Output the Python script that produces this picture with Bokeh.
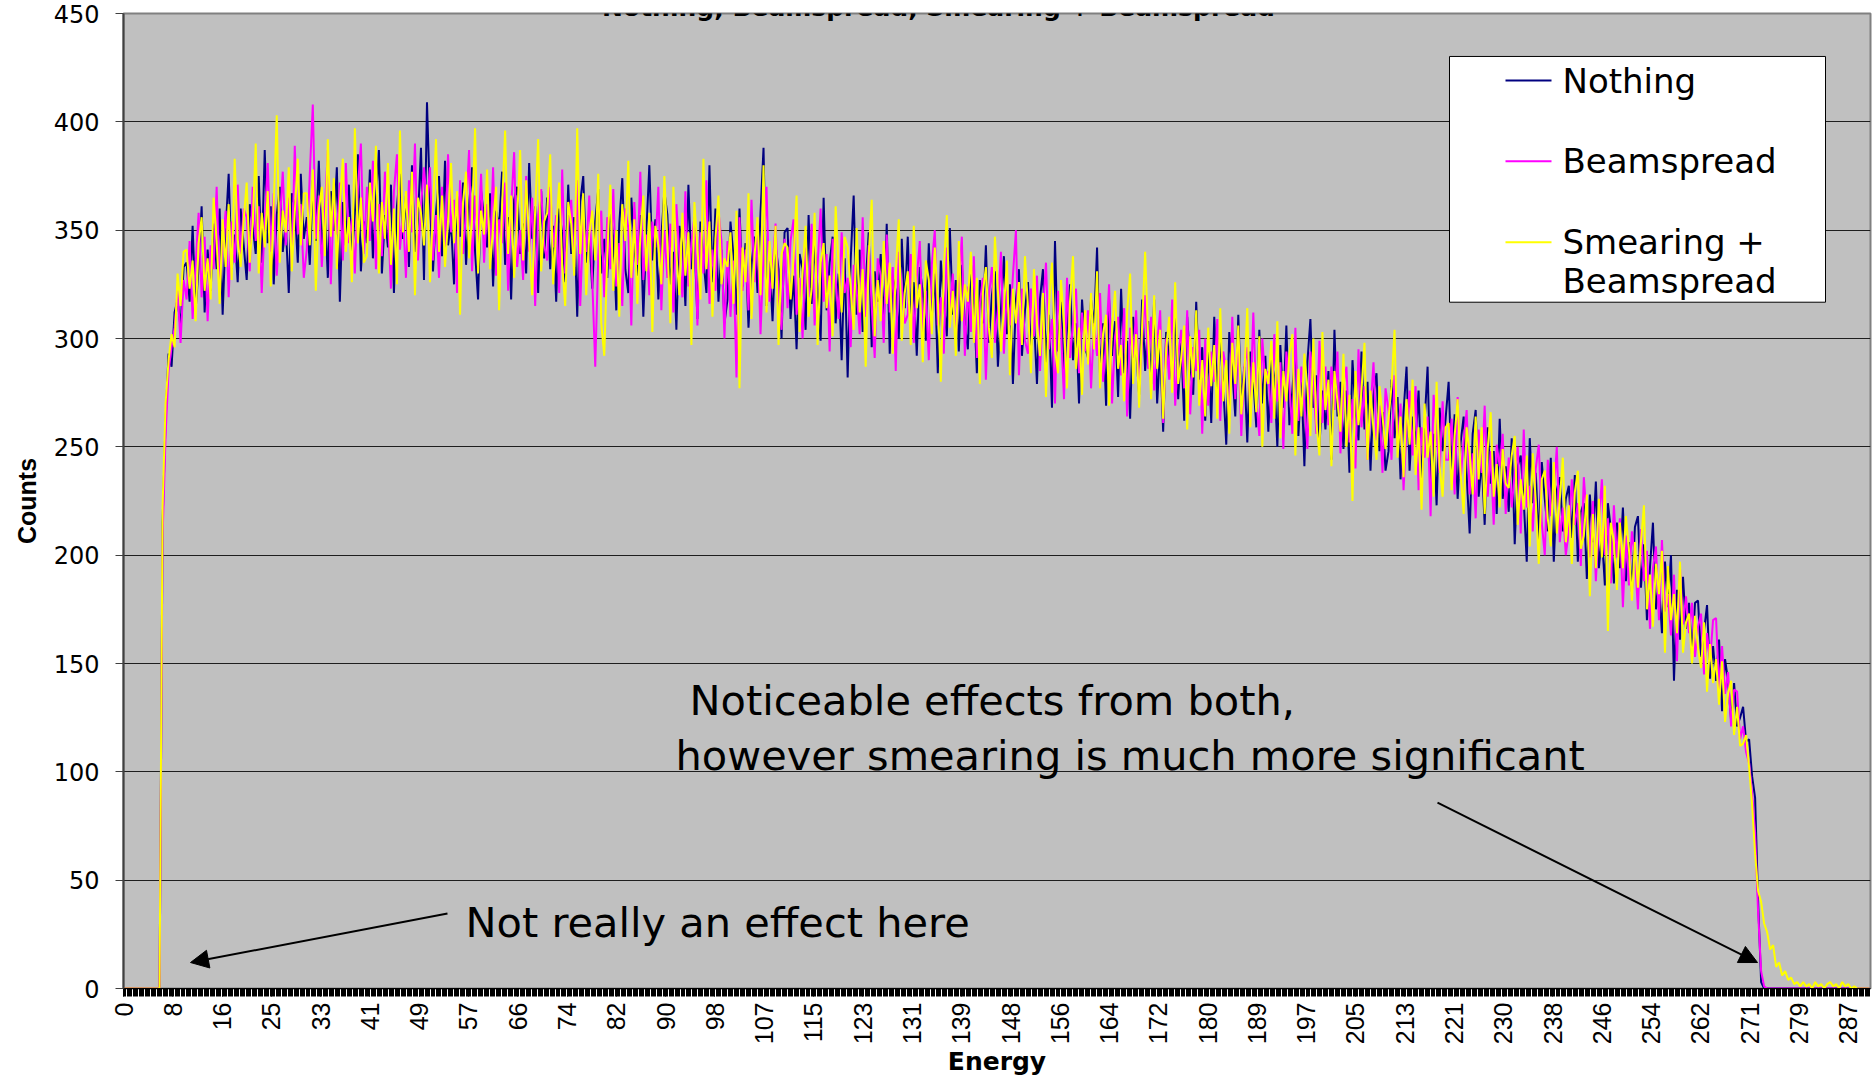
import math
from bokeh.plotting import figure
from bokeh.models import Range1d, FixedTicker, Label, Arrow, NormalHead, BoxAnnotation
from bokeh.embed import file_html
from bokeh.resources import INLINE

# ---------------- data (counts per energy bin) ----------------
# one value every 0.5 energy units (= 2.5 category bins of 0.2)
nothing = [
    0,0,0,0,0,0,0,0,0,0,0,0,0,
    215,262,293,287,312,318,305,333,
    335,317,352,313,333,361,312,341,322,353,332,360,311,350,376,332,348,326,360,343,
    327,362,352,339,375,335,387,344,361,325,357,370,340,353,321,367,361,335,376,346,
    356,334,373,345,382,339,361,328,368,350,379,317,363,343,371,337,358,385,331,354,
    344,378,337,364,387,330,357,342,371,321,361,376,346,366,333,380,340,355,388,327,
    409,363,331,358,375,338,382,343,354,325,366,347,372,334,361,379,340,318,368,356,
    342,367,324,359,351,377,334,356,318,364,370,339,353,330,381,346,361,321,368,337,
    365,332,352,317,360,348,326,371,339,356,310,363,375,335,349,323,354,369,330,346,
    328,361,346,313,353,374,332,321,365,342,329,357,310,349,380,336,355,318,347,368,
    357,325,340,304,352,343,315,371,332,347,309,354,336,321,380,326,360,317,341,307,
    318,354,338,311,360,324,344,305,334,347,321,358,388,315,336,308,343,332,300,349,
    351,309,329,295,339,332,304,357,316,343,322,299,365,313,335,347,307,330,290,337,
    282,336,366,311,341,303,325,349,296,331,317,339,306,353,293,328,322,300,346,314,
    347,305,326,292,333,321,299,344,310,330,284,336,317,301,351,311,327,294,334,307,
    295,335,318,284,327,307,343,298,320,331,287,313,338,302,325,279,318,332,292,313,
    326,296,309,279,318,332,289,311,268,345,294,317,281,305,325,290,307,270,318,296,
    291,318,305,342,282,307,269,318,292,308,273,323,284,299,263,310,295,274,318,285,
    308,279,318,270,296,257,303,292,280,314,272,298,262,310,288,274,317,281,296,262,
    296,261,310,275,299,278,251,303,285,264,311,270,287,252,294,281,259,304,270,292,
    257,290,282,250,297,268,306,260,276,297,255,282,241,289,309,268,283,250,276,258,
    285,244,304,264,280,249,276,238,290,267,253,294,258,280,239,274,284,248,266,239,
    248,281,254,273,235,266,287,239,264,251,276,235,261,287,230,256,223,268,248,263,
    280,239,265,226,252,264,237,210,256,267,227,244,214,259,233,248,219,263,226,241,
    220,254,205,241,246,225,197,254,224,238,207,243,226,211,245,197,230,236,211,226,
    232,208,237,197,220,224,189,228,206,234,194,209,186,224,212,187,215,194,222,188,
    206,183,213,218,185,205,170,194,215,175,187,164,197,176,200,142,184,161,190,166,
    178,154,178,179,153,165,177,143,158,142,161,128,152,142,124,141,121,125,130,114,
    115,98,88,40,
    3,0,0,0,0,0,0,0,0,0,0,0,0,0,0,0,0,0,0,0,0,0,0,0,0,0,0,0,0,0,0,0,0,0,0,0,0,
]

beamspread = [
    0,0,0,0,0,0,0,0,0,0,0,0,0,
    208,255,285,296,305,322,298,327,
    318,345,309,334,358,319,347,308,343,332,370,324,343,359,319,354,335,371,339,360,
    356,331,370,345,361,321,354,381,340,367,329,353,377,343,365,333,389,348,362,328,
    341,376,408,346,366,333,360,387,325,364,348,372,336,381,344,355,330,369,390,339,
    370,345,382,332,362,338,377,356,323,368,385,341,358,328,373,349,390,336,361,379,
    361,379,336,357,328,370,342,385,349,364,321,373,339,359,387,331,366,345,376,335,
    362,338,379,329,355,344,372,322,360,386,333,350,327,375,340,365,315,357,369,343,
    336,370,342,357,321,378,330,351,364,333,373,315,355,340,366,327,287,338,359,319,
    356,332,369,324,344,315,360,351,306,363,334,377,327,348,320,354,342,370,313,350,
    328,353,312,362,338,319,368,324,344,356,306,349,330,373,316,341,322,359,345,300,
    345,310,336,282,356,322,341,313,364,326,350,302,339,370,317,333,353,320,304,346,
    314,345,355,311,328,300,342,319,353,306,334,360,317,339,294,346,327,309,349,321,
    328,296,334,322,302,356,310,343,315,291,337,329,298,348,312,333,285,340,324,307,
    311,339,298,328,345,303,322,290,334,350,306,319,293,342,314,330,299,324,347,292,
    324,303,338,291,316,328,281,319,333,298,313,340,293,322,306,329,350,283,323,299,
    293,323,301,329,285,313,335,295,309,270,322,304,272,328,291,307,323,284,312,294,
    313,277,307,292,321,280,298,325,270,301,310,283,314,264,305,291,313,276,299,320,
    286,310,276,298,313,261,300,281,318,269,292,304,277,313,265,296,285,304,256,300,
    269,294,280,309,262,294,285,263,310,272,300,255,287,296,267,312,272,255,300,279,
    285,261,302,271,289,249,294,279,256,305,262,287,270,249,294,279,256,299,261,287,
    260,287,267,294,247,278,287,252,272,240,295,259,278,244,267,289,253,269,238,277,
    267,244,283,250,270,230,259,276,246,278,230,259,245,264,218,274,256,238,271,244,
    244,263,228,273,235,253,267,228,247,217,258,238,269,227,248,214,251,241,256,219,
    245,222,238,250,210,258,222,232,211,240,251,215,200,244,218,229,250,206,222,200,
    211,235,214,224,195,236,216,199,225,188,215,235,200,217,187,223,199,217,176,209,
    186,211,199,175,212,188,202,166,194,204,170,207,174,182,163,191,151,194,168,181,
    164,178,153,167,173,145,164,151,170,171,138,158,136,146,121,138,137,115,121,109,
    104,90,72,35,
    8,1,0,0,0,0,0,0,0,0,0,0,0,0,0,0,0,0,0,0,0,0,0,0,0,0,0,0,0,0,0,0,0,0,0,0,0,
]

smearing = [
    0,0,0,0,0,0,0,0,0,0,0,0,0,
    222,270,290,302,296,330,315,340,
    341,323,336,308,344,356,322,337,318,365,345,316,355,333,362,327,383,346,333,355,
    372,335,353,390,330,358,342,368,324,362,403,335,359,349,379,331,358,383,343,367,
    367,343,378,322,359,370,338,392,347,374,332,362,383,340,356,326,397,344,365,335,
    338,372,354,389,330,363,346,381,334,360,325,396,349,368,340,377,320,365,358,343,
    371,326,360,392,340,366,333,354,381,344,368,311,363,377,337,356,397,330,359,348,
    378,332,352,370,313,361,396,339,366,328,355,387,336,373,345,320,359,392,331,354,
    358,385,325,350,372,334,315,363,353,329,397,339,367,320,348,359,336,376,307,292,
    338,371,322,350,310,362,345,382,328,355,316,347,366,331,358,303,352,343,325,375,
    345,307,370,339,320,358,329,349,297,363,342,318,383,332,354,310,346,366,325,337,
    333,349,316,359,277,342,326,367,309,338,356,320,380,312,345,323,352,297,339,344,
    342,318,337,366,303,331,352,310,323,358,297,335,344,314,329,301,361,333,312,347,
    342,323,304,351,312,332,287,338,364,301,327,308,345,316,335,293,330,355,299,321,
    331,297,352,314,325,289,336,327,302,342,318,280,333,357,305,322,292,345,308,325,
    317,340,298,328,279,321,333,305,291,347,322,294,314,336,283,323,307,326,297,338,
    315,284,332,307,292,321,273,315,335,295,284,327,307,277,317,338,286,305,274,313,
    288,321,295,331,277,302,311,269,306,322,286,297,271,312,330,279,302,268,306,340,
    301,272,320,286,304,263,295,310,275,326,279,291,306,258,301,282,313,269,290,264,
    305,278,297,263,314,271,290,256,298,279,306,265,283,314,259,289,266,301,250,286,
    279,299,263,308,254,285,271,293,302,246,286,264,293,277,255,300,261,246,303,267,
    281,241,285,271,257,293,250,274,225,285,260,276,298,244,276,258,244,278,264,249,
    263,278,304,245,264,236,272,251,281,237,259,221,270,245,257,227,280,241,227,259,
    261,230,255,272,238,219,259,247,228,264,235,259,219,249,266,227,242,222,249,233,
    231,246,255,214,235,221,246,204,247,225,196,235,239,217,204,243,210,226,245,206,
    223,196,229,239,203,209,228,181,219,194,226,199,232,165,215,206,184,215,194,218,
    203,179,206,185,206,223,175,191,167,196,182,202,155,195,170,182,164,197,155,169,
    173,150,172,157,148,169,137,159,141,152,131,151,123,136,142,117,130,112,113,117,
    102,85,62,45,
    40,30,26,18,20,10,12,6,8,4,5,2,3,1,3,1,2,0,3,1,2,0,2,3,1,2,0,3,1,2,0,1,0,0,0,0,0,
]

series_names = ["Nothing", "Beamspread", "Smearing +\nBeamspread"]
series_colors = ["#000080", "#FF00FF", "#FFFF00"]

# category axis: bins of 0.2 energy, a label every 41 bins
x_tick_labels = ["0", "8", "16", "25", "33", "41", "49", "57", "66", "74", "82", "90",
                 "98", "107", "115", "123", "131", "139", "148", "156", "164", "172",
                 "180", "189", "197", "205", "213", "221", "230", "238", "246", "254",
                 "262", "271", "279", "287"]
label_every = 41
n_bins = 1454
points_step = 2.5  # bins between two stored values
y_ticks = [0, 50, 100, 150, 200, 250, 300, 350, 400, 450]

title_text = "Nothing, Beamspread, Smearing + Beamspread"

# ---------------- figure ----------------
W, H = 1873, 1079
FL, FR, FT, FB = 123, 1870, 13, 989
XMAX = 1453.5
YMAX = 450
LEG_SHIFT = 11   # empirical correction of label baseline placement (px)
NOTE_SHIFT = 15

p = figure(width=W, height=H, output_backend="svg", toolbar_location=None,
           x_range=Range1d(0, XMAX), y_range=Range1d(0, YMAX),
           min_border_left=FL, min_border_right=W - FR, min_border_top=FT,
           min_border_bottom=H - FB,
           background_fill_color="#C0C0C0", border_fill_color="white",
           outline_line_color="#808080", outline_line_width=2)


def dx(px):
    return (px - FL) / (FR - FL) * XMAX


def dy(py):
    return (FB - py) / (FB - FT) * YMAX


# grid
p.xgrid.visible = False
p.ygrid.grid_line_color = "#1e1e1e"
p.ygrid.grid_line_width = 1

# x axis
xa = p.xaxis[0]
major = [i * label_every for i in range(len(x_tick_labels))]
xa.ticker = FixedTicker(ticks=major, minor_ticks=list(range(0, n_bins)))
xa.major_label_overrides = {t: lab for t, lab in zip(major, x_tick_labels)}
xa.major_label_orientation = math.pi / 2
xa.major_tick_in = 0
xa.major_tick_out = 8
xa.minor_tick_in = 0
xa.minor_tick_out = 8
xa.major_tick_line_color = "black"
xa.minor_tick_line_color = "black"
xa.axis_line_color = "black"
xa.axis_line_width = 1
xa.major_label_text_font = "Liberation Sans"
xa.major_label_text_font_size = "25px"
xa.major_label_text_color = "black"
xa.major_label_standoff = 6
xa.axis_label = "Energy"
xa.axis_label_text_font = "DejaVu Sans"
xa.axis_label_text_font_style = "bold"
xa.axis_label_text_font_size = "25px"
xa.axis_label_text_color = "black"
xa.axis_label_standoff = 0

# y axis
ya = p.yaxis[0]
ya.ticker = FixedTicker(ticks=y_ticks)
ya.minor_tick_line_color = None
ya.major_tick_in = 0
ya.major_tick_out = 8
ya.major_tick_line_color = "#404040"
ya.axis_line_color = "#404040"
ya.axis_line_width = 2
ya.major_label_text_font = "DejaVu Sans"
ya.major_label_text_font_size = "24px"
ya.major_label_text_color = "black"
ya.major_label_standoff = 16
ya.axis_label = "Counts"
ya.axis_label_text_font = "Liberation Sans"
ya.axis_label_text_font_style = "bold"
ya.axis_label_text_font_size = "25px"
ya.axis_label_text_color = "black"
ya.axis_label_standoff = 10

# series
for vals, col in zip([nothing, beamspread, smearing], series_colors):
    xs = [i * points_step for i in range(len(vals))]
    p.line(xs, vals, line_color=col, line_width=2)

# title (partly above the canvas, as in the reference)
p.add_layout(Label(x=dx(938), y=dy(7), text=title_text, text_align="center",
                   text_baseline="alphabetic", text_font="DejaVu Sans",
                   text_font_style="bold", text_font_size="25px", text_color="black"))

# legend
p.add_layout(BoxAnnotation(left=dx(1449), right=dx(1825), top=dy(56), bottom=dy(302),
                           fill_color="white", fill_alpha=1.0, line_color="black",
                           line_width=1, line_alpha=1.0))
leg_rows = [80, 161, 242]
for row, col in zip(leg_rows, series_colors):
    p.add_layout(Arrow(end=None, x_start=dx(1505), y_start=dy(row), x_end=dx(1551),
                       y_end=dy(row), line_color=col, line_width=2))
leg_text = [("Nothing", 92), ("Beamspread", 172), ("Smearing +", 253), ("Beamspread", 292)]
for txt, base in leg_text:
    p.add_layout(Label(x=dx(1562), y=dy(base - LEG_SHIFT), text=txt, text_align="left",
                       text_baseline="alphabetic", text_font="DejaVu Sans",
                       text_font_size="34px", text_color="black"))

# annotations
notes = [("Noticeable effects from both,", 689, 716),
         ("however smearing is much more significant", 675, 771),
         ("Not really an effect here", 465, 938)]
for txt, px, py in notes:
    p.add_layout(Label(x=dx(px), y=dy(py - NOTE_SHIFT), text=txt, text_align="left",
                       text_baseline="alphabetic", text_font="DejaVu Sans",
                       text_font_size="41.5px", text_color="black"))

arrows = [((447, 914), (190, 963)), ((1437, 803), (1757, 963))]
for (sx, sy), (ex, ey) in arrows:
    p.add_layout(Arrow(end=NormalHead(size=18, fill_color="black", line_color="black"),
                       x_start=dx(sx), y_start=dy(sy), x_end=dx(ex), y_end=dy(ey),
                       line_color="black", line_width=2))

open("out.html", "w").write(file_html(p, INLINE))
